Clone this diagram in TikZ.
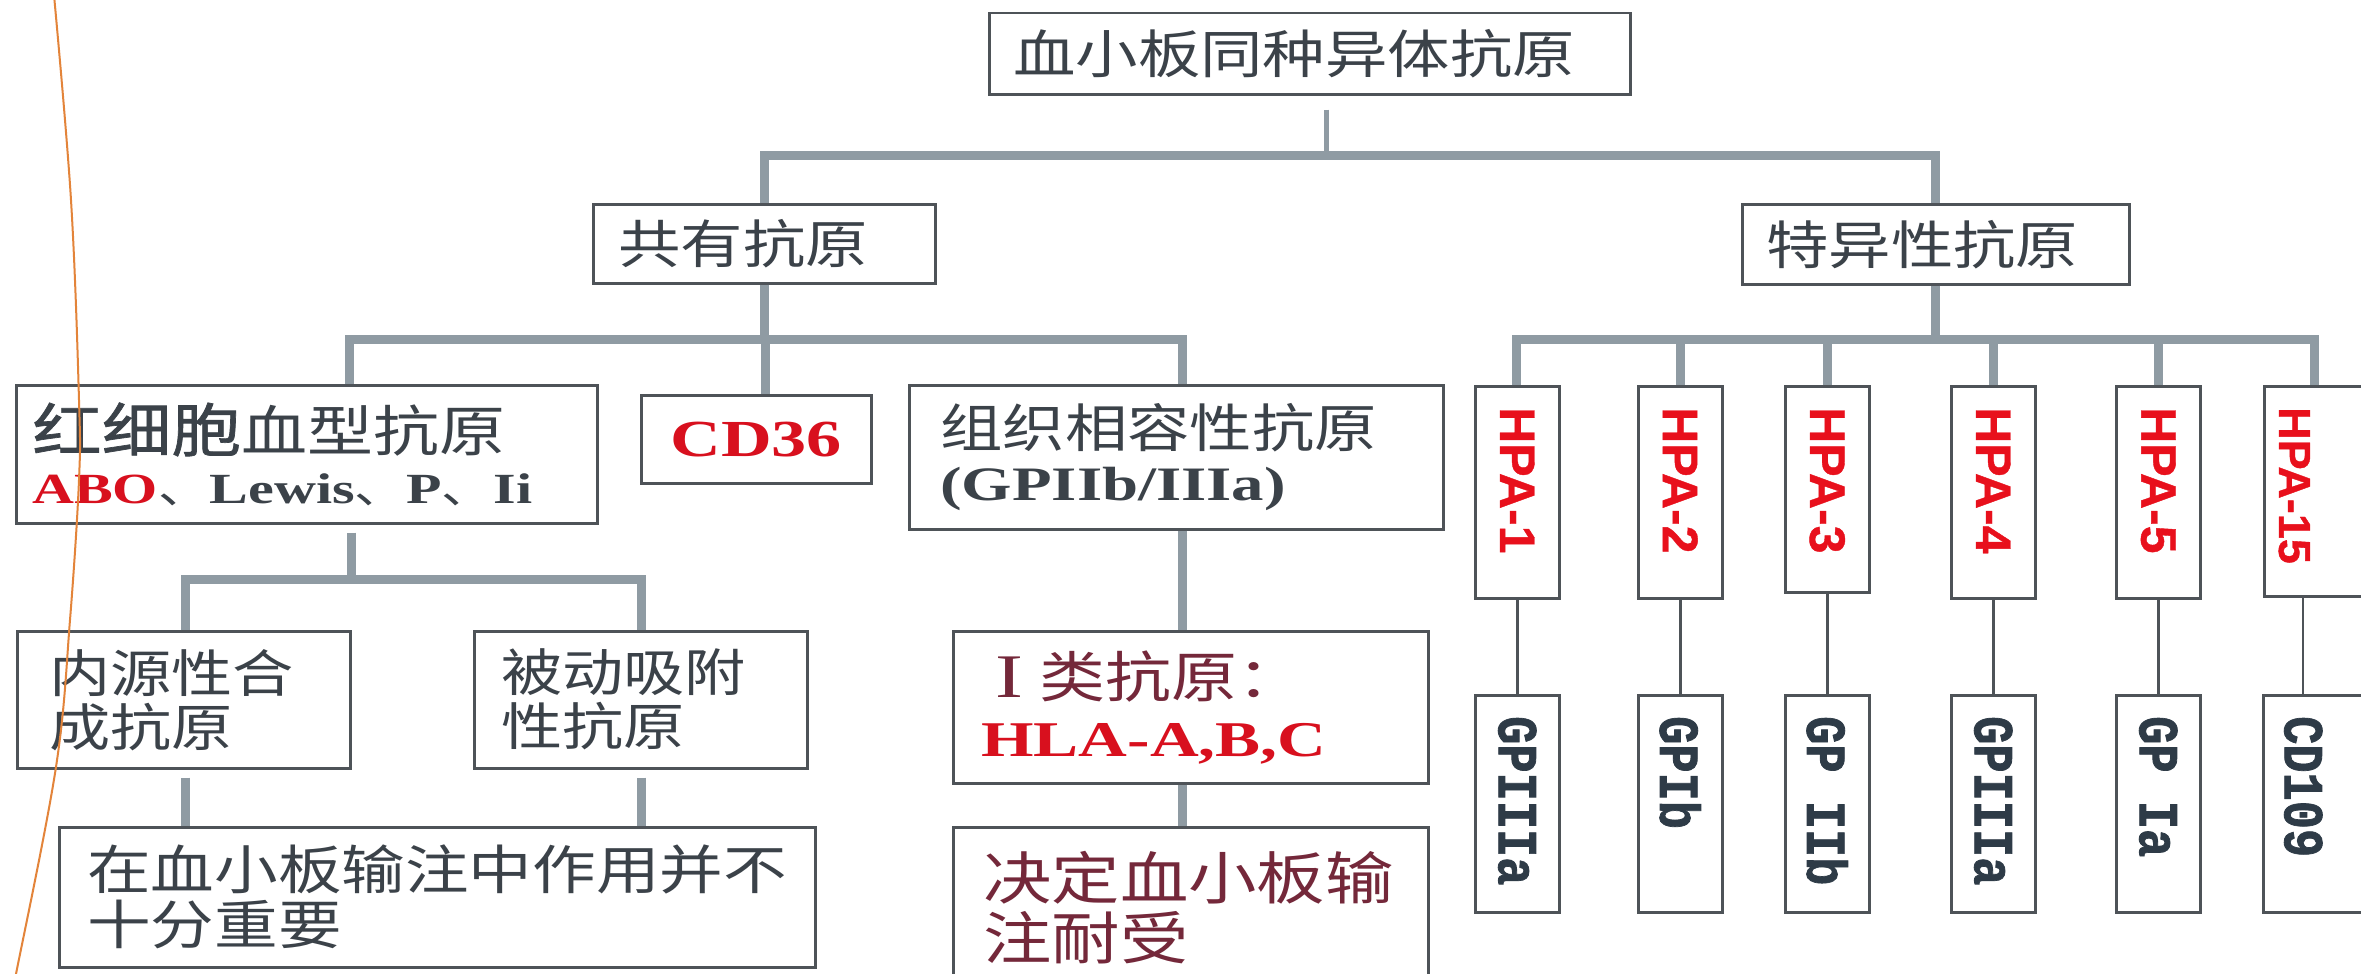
\documentclass[tikz,border=0pt]{standalone}
\usepackage{fontspec}
\usepackage{graphicx}
\newfontfamily\cjk[FakeStretch=1.2]{Noto Sans CJK SC}
\newfontfamily\cjkb[FakeStretch=1.2,FakeBold=1.2]{Noto Sans CJK SC}
\newfontfamily\ser[FakeStretch=1.35]{Liberation Serif}
\newfontfamily\hpaf[FakeBold=0.8]{Liberation Sans}
\newfontfamily\gpf[FakeBold=1.5]{Liberation Mono}
\newcommand\fsz[2]{\fontsize{#1}{#2}\selectfont}
\definecolor{txt}{HTML}{3B4249}
\definecolor{boxc}{HTML}{4E5358}
\definecolor{linec}{HTML}{8F9BA3}
\definecolor{hred}{HTML}{E8101C}
\definecolor{sred}{HTML}{D8101E}
\definecolor{maroon}{HTML}{74283A}
\definecolor{orng}{HTML}{E3843A}
\definecolor{gpc}{HTML}{2E3B47}
\begin{document}
\begin{tikzpicture}[x=1pt,y=-1pt,
  box/.style={draw=boxc, line width=2.5pt, anchor=north west, inner ysep=0pt, text=txt, align=left, font=\cjk\fsz{52}{55}},
  vbox/.style={draw=boxc, line width=2.5pt, anchor=north west, inner sep=0pt},
  conn/.style={draw=linec, line width=9pt},
  thinl/.style={draw=boxc, line width=2.5pt},
  hpat/.style={rotate=-90, anchor=west, inner sep=0pt, text=hred, font=\hpaf\bfseries},
  gpt/.style={rotate=-90, anchor=west, inner sep=0pt, text=gpc, font=\gpf\bfseries}]
\useasboundingbox (0,0) rectangle (2361,974);
\clip (0,0) rectangle (2361,974);
\fill[white] (0,0) rectangle (2361,974);

% level 0-1
\node[box, minimum width=641pt, minimum height=81pt, inner xsep=24pt, text width=593pt] (top) at (988,12) {血小板同种异体抗原};
\node[box, minimum width=342pt, minimum height=79pt, inner xsep=25pt, text width=292pt] (gong) at (592,203) {共有抗原};
\node[box, minimum width=387pt, minimum height=80pt, inner xsep=24pt, text width=339pt] (te) at (1741,203) {特异性抗原};

% level 2 left
\node[box, minimum width=581pt, minimum height=138pt, inner xsep=16pt, text width=549pt, font=\cjk\fsz{55}{54}] (rbc) at (15,384)
  {{\cjkb\fsz{58}{54}红细胞}血型抗原\\[-2pt]
   {\ser\bfseries\fsz{43}{54}\color{sred}ABO}{\fsz{43}{54}、}{\ser\bfseries\fsz{43}{54}Lewis}{\fsz{43}{54}、}{\ser\bfseries\fsz{43}{54}P}{\fsz{43}{54}、}{\ser\bfseries\fsz{43}{54}Ii}};
\node[box, minimum width=230pt, minimum height=88pt, inner xsep=10pt, text width=210pt, align=center, font=\ser\bfseries\fsz{52}{55}, text=sred] (cd36) at (640,394) {CD36};
\node[box, minimum width=534pt, minimum height=144pt, inner xsep=31pt, text width=472pt] (mhc) at (908,384)
  {组织相容性抗原\\[-2pt]{\ser\bfseries\fsz{48}{55}(GPIIb/IIIa)}};

% level 3 left
\node[box, minimum width=333pt, minimum height=137pt, inner xsep=32pt, text width=269pt, font=\cjk\fsz{51}{54}] (endo) at (16,630) {内源性合\\成抗原};
\node[box, minimum width=333pt, minimum height=137pt, inner xsep=27pt, text width=279pt, font=\cjk\fsz{51}{54}] (passive) at (473,630) {被动吸附\\性抗原};
\node[box, minimum width=756pt, minimum height=140pt, inner xsep=28pt, text width=700pt, font=\cjk\fsz{53}{55}] (bottom) at (58,826) {在血小板输注中作用并不\\十分重要};

\node[box, minimum width=475pt, minimum height=152pt, inner xsep=28pt, text width=419pt, font=\cjk\fsz{55}{59}, text=maroon] (classI) at (952,630)
  {\hspace*{14pt}{\ser\fsz{62}{59}I}\hspace{16pt}类抗原：\\{\ser\bfseries\fsz{50}{59}\color{sred}HLA-A,B,C}};
\node[box, minimum width=475pt, minimum height=160pt, inner xsep=30pt, text width=415pt, font=\cjk\fsz{57}{60}, text=maroon] (decide) at (952,826) {决定血小板输\\注耐受};

% HPA boxes
\node[vbox, minimum width=84pt, minimum height=212pt] (hpa1) at (1474,385) {};
\node[vbox, minimum width=84pt, minimum height=212pt] (hpa2) at (1637,385) {};
\node[vbox, minimum width=84pt, minimum height=206pt] (hpa3) at (1784,385) {};
\node[vbox, minimum width=84pt, minimum height=212pt] (hpa4) at (1950,385) {};
\node[vbox, minimum width=84pt, minimum height=212pt] (hpa5) at (2115,385) {};
\node[vbox, minimum width=110pt, minimum height=210pt] (hpa15) at (2263,385) {};

\node[hpat] (th1) at ([yshift=-22pt]hpa1.north) {\fsz{50}{50}HPA-1};
\node[hpat] (th2) at ([yshift=-22pt]hpa2.north) {\fsz{50}{50}HPA-2};
\node[hpat] (th3) at ([yshift=-22pt]hpa3.north) {\fsz{50}{50}HPA-3};
\node[hpat] (th4) at ([yshift=-22pt]hpa4.north) {\fsz{50}{50}HPA-4};
\node[hpat] (th5) at ([yshift=-22pt]hpa5.north) {\fsz{50}{50}HPA-5};
\node[hpat] (th15) at ([xshift=-25pt,yshift=-22pt]hpa15.north) {\fsz{45}{45}HPA-15};

% GP boxes
\node[vbox, minimum width=84pt, minimum height=217pt] (gp1) at (1474,694) {};
\node[vbox, minimum width=84pt, minimum height=217pt] (gp2) at (1637,694) {};
\node[vbox, minimum width=84pt, minimum height=217pt] (gp3) at (1784,694) {};
\node[vbox, minimum width=84pt, minimum height=217pt] (gp4) at (1950,694) {};
\node[vbox, minimum width=84pt, minimum height=217pt] (gp5) at (2115,694) {};
\node[vbox, minimum width=120pt, minimum height=217pt] (gp15) at (2262,694) {};

\node[gpt] (tg1) at ([yshift=-22pt]gp1.north) {\scalebox{1}[1.2]{\fsz{47}{47}GPIIIa}};
\node[gpt] (tg2) at ([yshift=-22pt]gp2.north) {\scalebox{1}[1.2]{\fsz{47}{47}GPIb}};
\node[gpt] (tg3) at ([yshift=-22pt]gp3.north) {\scalebox{1}[1.2]{\fsz{47}{47}GP IIb}};
\node[gpt] (tg4) at ([yshift=-22pt]gp4.north) {\scalebox{1}[1.2]{\fsz{47}{47}GPIIIa}};
\node[gpt] (tg5) at ([yshift=-22pt]gp5.north) {\scalebox{1}[1.2]{\fsz{47}{47}GP Ia}};
\node[gpt] (tg15) at ([xshift=-20pt,yshift=-22pt]gp15.north) {\scalebox{1}[1.2]{\fsz{47}{47}CD109}};

% junction coordinates
\coordinate (j0) at (1326,155);
\coordinate (j1) at (765,339);
\coordinate (r1) at (349,339);
\coordinate (m1) at (1182,339);
\coordinate (r2) at (351,579);
\coordinate (e1) at (185,579);
\coordinate (p1) at (641,579);
\coordinate (h1) at (1516,339);
\coordinate (h15) at (2314,339);
\coordinate (t15) at (2303,650);

% thick connectors
\draw[conn, line width=5pt] (top.south -| j0) ++(0,14) -- (j0);
\draw[conn] (gong.north) |- (j0) -| (te.north);
\draw[conn] (gong.south) -- (gong.south |- j1);
\draw[conn] (rbc.north -| r1) -- (r1) -- (m1) -- (mhc.north -| m1);
\draw[conn] (j1) -- (cd36.north -| j1);
\draw[conn] (rbc.south -| r2) ++(0,8) -- (r2);
\draw[conn] (endo.north -| e1) -- (e1) -- (p1) -- (passive.north -| p1);
\draw[conn] (endo.south -| e1) ++(0,8) -- (bottom.north -| e1);
\draw[conn] (passive.south -| p1) ++(0,8) -- (bottom.north -| p1);
\draw[conn] (mhc.south -| m1) -- (classI.north -| m1);
\draw[conn] (classI.south -| m1) -- (decide.north -| m1);
\draw[conn] (te.south) -- (te.south |- h1);
\draw[conn] (hpa1.north -| h1) -- (h1) -- (h15) -- (hpa15.north -| h15);
\draw[conn] (hpa2.north |- h1) -- (hpa2.north);
\draw[conn] (hpa3.north |- h1) -- (hpa3.north);
\draw[conn] (hpa4.north |- h1) -- (hpa4.north);
\draw[conn] (hpa5.north |- h1) -- (hpa5.north);

% thin connectors
\draw[thinl] (hpa1.south) -- (gp1.north);
\draw[thinl] (hpa2.south) -- (gp2.north);
\draw[thinl] (hpa3.south) -- (gp3.north);
\draw[thinl] (hpa4.south) -- (gp4.north);
\draw[thinl] (hpa5.south) -- (gp5.north);
\draw[thinl] (hpa15.south -| t15) -- (gp15.north -| t15);

% orange curve
\draw[orng, line width=2pt] plot[smooth, tension=0.6] coordinates {(54,-5) (71,200) (79,400) (79,480) (70,620) (56,767) (16,974) (12,990)};
\end{tikzpicture}
\end{document}
